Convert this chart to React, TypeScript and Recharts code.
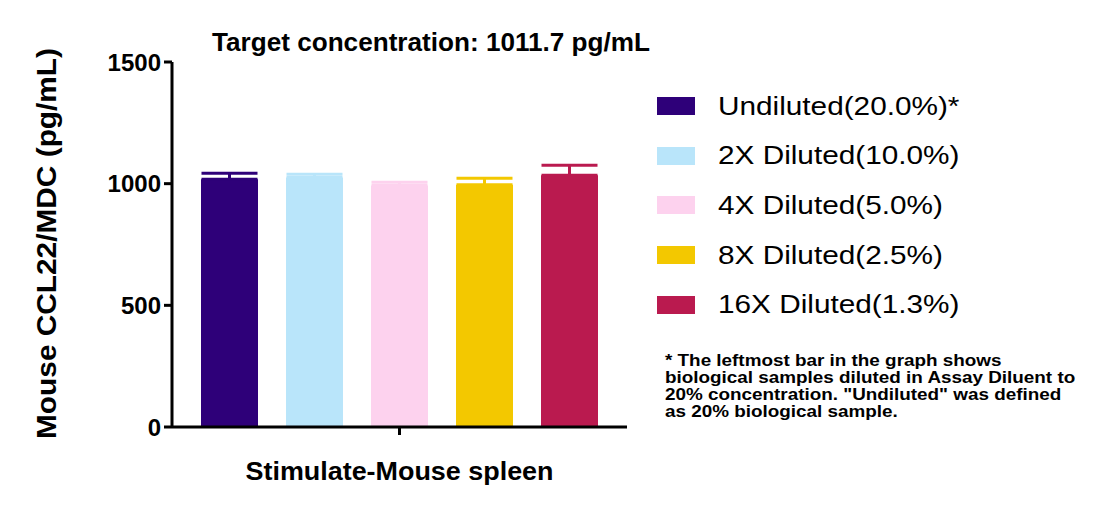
import React from "react";
import {
  Bar,
  BarChart,
  ErrorBar,
  Legend,
  XAxis,
  YAxis,
} from "recharts";

const CATEGORY = "Stimulate-Mouse spleen";
const SERIES_NAMES = [
  "Undiluted(20.0%)*",
  "2X Diluted(10.0%)",
  "4X Diluted(5.0%)",
  "8X Diluted(2.5%)",
  "16X Diluted(1.3%)",
];
const MEANS = [1018, 1025, 992, 996, 1035];
const ERRORS = [25, 14, 14, 26, 41];
const COLORS = ["#2E0079", "#B9E5FA", "#FDD2EE", "#F3C800", "#BA1A4F"];
const Y_TICKS = [0, 500, 1000, 1500];
const TITLE = "Target concentration: 1011.7 pg/mL";
const Y_LABEL = "Mouse CCL22/MDC (pg/mL)";
const FOOTNOTE = [
  "* The leftmost bar in the graph shows",
  "biological samples diluted in Assay Diluent to",
  '20% concentration. "Undiluted" was defined',
  "as 20% biological sample.",
];

const FONT = '"Liberation Sans", Arial, Helvetica, sans-serif';

const row: Record<string, string | number | number[]> = { group: CATEGORY };
MEANS.forEach((m, i) => {
  row[`s${i}`] = m;
  row[`e${i}`] = [0, ERRORS[i]];
});
const data = [row];

function XTick(props: any) {
  const { x, y, payload } = props;
  return (
    <text
      x={x}
      y={y + 43}
      textAnchor="middle"
      fontFamily={FONT}
      fontWeight="bold"
      fontSize={25}
      fill="#000"
      textLength={308}
      lengthAdjust="spacingAndGlyphs"
    >
      {payload.value}
    </text>
  );
}

function LegendBox(props: any) {
  // keep the series order, recharts sorts the payload by name
  const items = [...(props.payload || [])].sort(
    (a: any, b: any) => SERIES_NAMES.indexOf(a.value) - SERIES_NAMES.indexOf(b.value)
  );
  return (
    <div style={{ fontFamily: FONT }}>
      {items.map((entry: any) => (
        <div key={entry.value} style={{ position: "relative", height: 49.7 }}>
          <div
            style={{
              position: "absolute",
              left: 0,
              top: 0,
              width: 38,
              height: 18,
              background: entry.color,
            }}
          />
          <span
            style={{
              position: "absolute",
              left: 61,
              top: -3.3,
              fontSize: 25,
              lineHeight: "25px",
              whiteSpace: "nowrap",
              color: "#000",
              display: "inline-block",
              transform: "scaleX(1.19)",
              transformOrigin: "left center",
            }}
          >
            {entry.value}
          </span>
        </div>
      ))}
    </div>
  );
}

export default function App() {
  return (
    <div style={{ position: "relative", width: 1113, height: 507, background: "#fff" }}>
      <style>{"body{margin:0}"}</style>
      <BarChart
        width={1113}
        height={507}
        data={data}
        margin={{ top: 62, right: 486, bottom: 0, left: 0 }}
        barSize={57}
        barGap={28}
      >
        <XAxis
          dataKey="group"
          height={80}
          axisLine={{ stroke: "#000", strokeWidth: 3 }}
          tickLine={{ stroke: "#000", strokeWidth: 3 }}
          tickSize={8}
          tickMargin={2}
          tick={<XTick />}
        />
        <YAxis
          width={172}
          domain={[0, 1500]}
          ticks={Y_TICKS}
          interval={0}
          axisLine={{ stroke: "#000", strokeWidth: 3 }}
          tickLine={{ stroke: "#000", strokeWidth: 3 }}
          tickSize={8}
          tickMargin={3}
          tick={{ fill: "#000", fontSize: 24, fontWeight: "bold", fontFamily: FONT }}
        />
        <Legend
          layout="horizontal"
          verticalAlign="middle"
          align="center"
          content={<LegendBox />}
          wrapperStyle={{ position: "absolute", left: 657, top: 97, width: 420, height: 250 }}
        />
        {SERIES_NAMES.map((name, i) => (
          <Bar
            key={name}
            dataKey={`s${i}`}
            name={name}
            fill={COLORS[i]}
            isAnimationActive={false}
          >
            <ErrorBar
              dataKey={`e${i}`}
              direction="y"
              width={28}
              stroke={COLORS[i]}
              strokeWidth={3}
              isAnimationActive={false}
            />
          </Bar>
        ))}
      </BarChart>
      <svg
        width={1113}
        height={507}
        style={{ position: "absolute", left: 0, top: 0, pointerEvents: "none" }}
      >
        <text
          x={431}
          y={51}
          textAnchor="middle"
          fontFamily={FONT}
          fontWeight="bold"
          fontSize={25}
          fill="#000"
          textLength={438}
          lengthAdjust="spacingAndGlyphs"
        >
          {TITLE}
        </text>
        <text
          x={56}
          y={243.5}
          transform="rotate(-90 56 243.5)"
          textAnchor="middle"
          fontFamily={FONT}
          fontWeight="bold"
          fontSize={27}
          fill="#000"
          textLength={391}
          lengthAdjust="spacingAndGlyphs"
        >
          {Y_LABEL}
        </text>
        <g transform="translate(665 0) scale(1.18 1)">
          {FOOTNOTE.map((line, i) => (
            <text
              key={line}
              x={0}
              y={366 + i * 17}
              fontFamily={FONT}
              fontWeight="bold"
              fontSize={16}
              fill="#000"
            >
              {line}
            </text>
          ))}
        </g>
      </svg>
    </div>
  );
}
